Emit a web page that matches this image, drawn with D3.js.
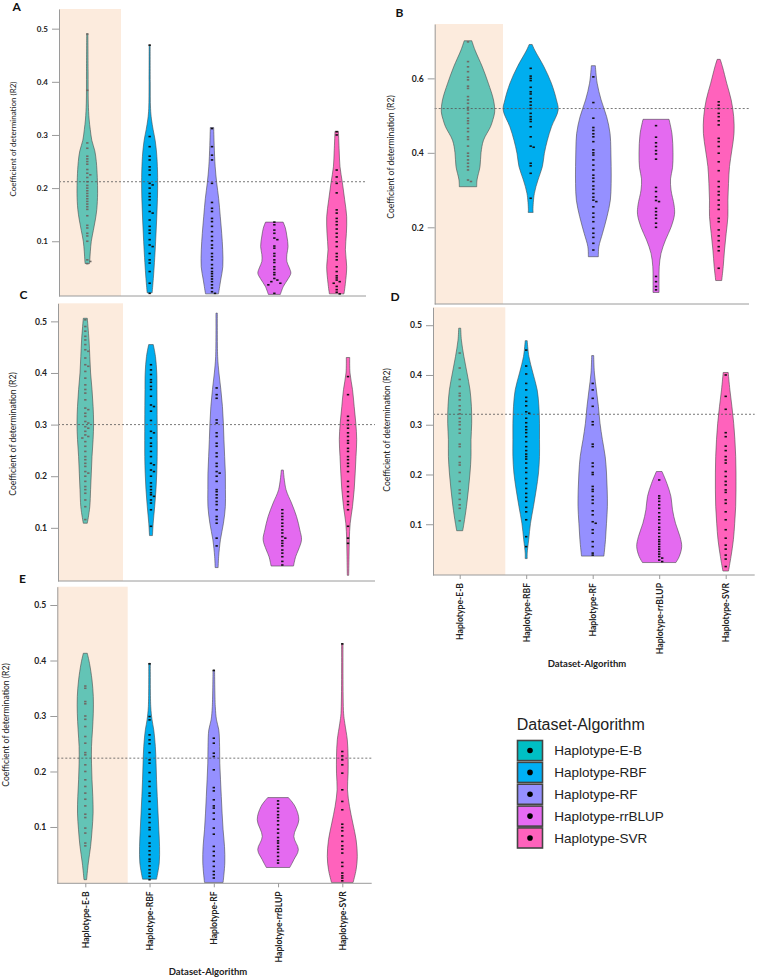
<!DOCTYPE html>
<html>
<head>
<meta charset="utf-8">
<script src="https://cdn.jsdelivr.net/npm/d3@7"></script>
<style>body{margin:0;background:#fff}</style>
</head>
<body>
<div id="chart"></div>
<script>
// categories and colours
const categories = ["Haplotype-E-B", "Haplotype-RBF", "Haplotype-RF", "Haplotype-rrBLUP", "Haplotype-SVR"];
const violinColors = ["#63c4b6", "#00aeef", "#9590ff", "#e46af0", "#ff62bc"];
const legendColors = ["#00bfc4", "#00b0f6", "#9590ff", "#e76bf3", "#ff62bc"];

// violin outlines: [R2 value, density]
const profilesA = [
  [[0.49,0.6],[0.42,0.8],[0.36,1],[0.33,1.8],[0.31,3],[0.29,4.5],[0.27,7.5],[0.25,9],[0.22,10],[0.19,10.3],[0.16,9.5],[0.14,8],[0.12,6],[0.10,4],[0.08,3],[0.065,2.5],[0.058,2.2]],
  [[0.469,0.5],[0.40,0.6],[0.35,0.9],[0.33,1.8],[0.31,3.5],[0.29,5.5],[0.26,7.2],[0.22,8],[0.18,7.8],[0.14,7],[0.10,6],[0.06,4.8],[0.03,3.7],[0.003,2.5]],
  [[0.314,1.7],[0.28,2.2],[0.24,3.2],[0.21,4.7],[0.18,6.7],[0.146,8.3],[0.115,9.7],[0.084,10.7],[0.052,10.8],[0.027,8.7],[0.001,6.5]],
  [[0.136,8.8],[0.125,11],[0.11,12.5],[0.09,13.7],[0.075,12.5],[0.062,12.5],[0.05,15],[0.04,16.5],[0.03,14],[0.015,9],[0.0,6]],
  [[0.307,1.7],[0.27,2.5],[0.24,3.3],[0.21,5.7],[0.178,8],[0.146,10],[0.115,9.7],[0.084,8.7],[0.052,10],[0.021,8.7],[0.001,7.3]]
];
const profilesB = [
  [[0.701,3.8],[0.676,7],[0.631,14.3],[0.587,20.3],[0.542,25.5],[0.51,26.7],[0.49,25],[0.47,22.5],[0.434,15.5],[0.40,13],[0.363,12],[0.327,9],[0.309,8.7]],
  [[0.691,1.5],[0.676,4],[0.631,13.3],[0.587,20.7],[0.542,25.8],[0.515,27.5],[0.47,20.8],[0.434,16.7],[0.399,13.7],[0.363,11.7],[0.327,7.3],[0.291,3.7],[0.247,2.3],[0.24,2.5]],
  [[0.634,2],[0.587,3.8],[0.542,7.8],[0.497,13.3],[0.452,16.7],[0.408,17.5],[0.363,17.8],[0.318,17.8],[0.273,17],[0.229,13.7],[0.184,9.2],[0.148,5.5],[0.121,5]],
  [[0.49,13],[0.45,16],[0.40,17],[0.36,16.5],[0.33,14.5],[0.30,15],[0.26,18],[0.235,18.5],[0.20,15],[0.166,9.5],[0.13,5],[0.094,3.2],[0.06,3],[0.025,3]],
  [[0.651,1.5],[0.631,3.8],[0.587,8],[0.542,12.5],[0.497,15],[0.452,15.3],[0.408,13.2],[0.363,10.8],[0.318,9.8],[0.273,9.2],[0.229,9.2],[0.184,7.5],[0.139,5.8],[0.094,4.5],[0.057,3]]
];
const profilesC = [
  [[0.506,2],[0.464,3.7],[0.432,4.5],[0.4,5.3],[0.368,6.7],[0.335,7.8],[0.303,8.3],[0.271,7.8],[0.238,6.7],[0.206,6],[0.174,5.3],[0.141,4.5],[0.12,3],[0.109,2]],
  [[0.455,2.3],[0.432,4.5],[0.4,5.8],[0.368,6],[0.303,6.2],[0.238,6.2],[0.206,5.8],[0.174,5],[0.141,3.7],[0.109,2.2],[0.085,1.5]],
  [[0.516,0.7],[0.432,1],[0.4,2.3],[0.368,4.2],[0.335,5.8],[0.303,6.7],[0.271,7.3],[0.238,8],[0.206,8.7],[0.174,8.8],[0.141,8.7],[0.109,6.8],[0.077,3.8],[0.044,2],[0.023,1.5]],
  [[0.212,1],[0.174,3.7],[0.148,9.2],[0.122,14.2],[0.096,17.5],[0.077,19.2],[0.057,16],[0.044,13.3],[0.026,11.2]],
  [[0.43,1.7],[0.4,2],[0.368,4.5],[0.335,6.2],[0.303,7.8],[0.271,8.7],[0.238,8],[0.206,7.2],[0.174,6.2],[0.141,4.5],[0.109,2.2],[0.077,1.3],[0.044,1],[0.008,0.7]]
];
const profilesD = [
  [[0.494,1],[0.47,1.7],[0.437,4.2],[0.404,7.3],[0.37,10.3],[0.337,11.7],[0.303,12],[0.27,11.3],[0.236,11.3],[0.203,10.3],[0.169,8.7],[0.136,6.8],[0.102,4.3],[0.087,3]],
  [[0.469,1],[0.437,2.7],[0.404,6.7],[0.37,11],[0.337,12.7],[0.303,13.3],[0.27,13.3],[0.236,13.3],[0.203,12.3],[0.169,10],[0.136,7.3],[0.102,4.3],[0.069,2.5],[0.042,1],[0.031,1]],
  [[0.439,1],[0.404,1.7],[0.37,3.7],[0.337,5.7],[0.303,7.3],[0.27,9.7],[0.236,12.5],[0.203,13.8],[0.169,14.5],[0.136,14.7],[0.102,13.8],[0.069,12.8],[0.036,11.2]],
  [[0.206,2.8],[0.182,7.7],[0.156,11.7],[0.129,13.3],[0.102,16.3],[0.075,20.8],[0.055,22.5],[0.035,20],[0.023,16.7]],
  [[0.405,2.5],[0.37,4.2],[0.337,6.2],[0.303,8],[0.27,9.2],[0.236,10],[0.203,10.3],[0.169,10.3],[0.136,10],[0.102,9],[0.069,7.7],[0.035,5.3],[0.006,2.8]]
];
const profilesE = [
  [[0.413,2],[0.395,4.2],[0.365,6.7],[0.335,8],[0.305,8],[0.275,7.2],[0.245,6.2],[0.215,6.2],[0.185,6.7],[0.155,7.5],[0.125,7.8],[0.095,6.8],[0.065,5.3],[0.035,3],[0.005,1.3]],
  [[0.395,0.8],[0.317,1.2],[0.293,2.5],[0.275,4.2],[0.245,5.8],[0.215,6.5],[0.185,7],[0.155,7.7],[0.125,8.5],[0.095,9.3],[0.065,10],[0.035,9.7],[0.006,7]],
  [[0.383,0.8],[0.317,1.5],[0.293,2.7],[0.275,5],[0.245,5.8],[0.215,6],[0.185,6.7],[0.155,7.5],[0.125,8.3],[0.095,9.3],[0.065,10.7],[0.035,11],[0.0,9.3]],
  [[0.153,10.3],[0.137,17],[0.113,20.8],[0.083,15.8],[0.059,20.3],[0.041,15.8],[0.027,11.7]],
  [[0.43,0.7],[0.305,1.3],[0.287,2.5],[0.257,5],[0.227,5.8],[0.197,5.8],[0.167,5.2],[0.137,7.2],[0.107,10.5],[0.077,13.8],[0.047,15],[0.023,13.8],[0.0,10.8]]
];

// individual R2 values (the dashes inside each violin)
const pointsA = [
  [0.49,0.384,0.285,0.275,0.26,0.255,0.25,0.245,0.235,0.228,0.225,0.22,0.212,0.205,0.2,0.195,0.19,0.185,0.18,0.175,0.17,0.165,0.16,0.148,0.13,0.125,0.115,0.11,0.1,0.065,0.062,0.058],
  [0.469,0.297,0.278,0.26,0.253,0.24,0.234,0.225,0.209,0.206,0.2,0.19,0.184,0.178,0.168,0.156,0.153,0.14,0.128,0.121,0.115,0.103,0.093,0.09,0.077,0.065,0.059,0.043,0.021,0.002],
  [0.312,0.278,0.262,0.253,0.209,0.173,0.162,0.156,0.143,0.137,0.128,0.118,0.109,0.101,0.093,0.087,0.077,0.071,0.065,0.056,0.049,0.043,0.039,0.034,0.029,0.024,0.018,0.012,0.005,0.002],
  [0.136,0.131,0.121,0.115,0.106,0.103,0.091,0.087,0.077,0.072,0.065,0.06,0.052,0.047,0.041,0.037,0.03,0.027,0.024,0.021,0.018,0.002],
  [0.306,0.3,0.234,0.221,0.209,0.191,0.159,0.153,0.143,0.137,0.131,0.123,0.115,0.108,0.099,0.09,0.077,0.071,0.065,0.052,0.043,0.035,0.031,0.027,0.024,0.021,0.015,0.009,0.004,0.001]
];
const pointsB = [
  [0.698,0.645,0.631,0.618,0.603,0.596,0.579,0.573,0.551,0.542,0.533,0.522,0.515,0.506,0.493,0.486,0.479,0.466,0.457,0.443,0.436,0.418,0.399,0.391,0.381,0.372,0.363,0.354,0.327,0.323],
  [0.627,0.606,0.6,0.594,0.576,0.564,0.558,0.546,0.537,0.528,0.519,0.506,0.497,0.49,0.484,0.47,0.443,0.418,0.415,0.372,0.365,0.345,0.278],
  [0.604,0.535,0.493,0.468,0.46,0.451,0.443,0.43,0.408,0.4,0.394,0.381,0.367,0.354,0.34,0.332,0.323,0.311,0.302,0.291,0.281,0.273,0.269,0.255,0.238,0.227,0.215,0.197,0.184,0.173,0.157,0.139],
  [0.473,0.442,0.427,0.417,0.406,0.397,0.383,0.307,0.296,0.282,0.272,0.269,0.251,0.242,0.233,0.224,0.211,0.2,0.068,0.054,0.041,0.032],
  [0.537,0.528,0.519,0.506,0.497,0.486,0.475,0.439,0.43,0.417,0.399,0.376,0.352,0.323,0.309,0.296,0.287,0.273,0.26,0.248,0.224,0.215,0.193,0.177,0.164,0.148,0.137,0.09]
];
const pointsC = [
  [0.503,0.49,0.481,0.471,0.464,0.455,0.445,0.442,0.429,0.416,0.413,0.403,0.39,0.377,0.368,0.361,0.348,0.332,0.329,0.322,0.316,0.306,0.303,0.296,0.293,0.287,0.28,0.277,0.274,0.267,0.258,0.248,0.238,0.232,0.225,0.219,0.209,0.206,0.2,0.19,0.18,0.174,0.167,0.154,0.141,0.116],
  [0.416,0.406,0.397,0.387,0.382,0.374,0.368,0.355,0.338,0.335,0.326,0.308,0.287,0.284,0.274,0.264,0.258,0.248,0.238,0.225,0.222,0.212,0.209,0.2,0.187,0.18,0.174,0.168,0.164,0.161,0.154,0.148,0.135,0.103],
  [0.371,0.358,0.351,0.309,0.303,0.284,0.277,0.264,0.258,0.245,0.238,0.225,0.219,0.209,0.206,0.2,0.19,0.174,0.17,0.164,0.158,0.151,0.145,0.135,0.122,0.116,0.109,0.08,0.065],
  [0.135,0.128,0.122,0.116,0.109,0.103,0.096,0.09,0.083,0.08,0.075,0.07,0.065,0.057,0.051,0.044,0.035,0.028],
  [0.393,0.358,0.316,0.308,0.3,0.293,0.284,0.277,0.269,0.264,0.254,0.248,0.238,0.232,0.225,0.219,0.209,0.19,0.18,0.17,0.161,0.151,0.145,0.135,0.103,0.08,0.07]
];
const pointsD = [
  [0.444,0.414,0.391,0.377,0.363,0.358,0.35,0.338,0.33,0.322,0.313,0.306,0.3,0.291,0.283,0.261,0.256,0.236,0.224,0.219,0.204,0.186,0.169,0.162,0.15,0.139,0.132,0.107],
  [0.45,0.418,0.402,0.383,0.37,0.355,0.347,0.338,0.326,0.323,0.313,0.304,0.296,0.29,0.284,0.276,0.266,0.256,0.248,0.241,0.236,0.231,0.223,0.213,0.204,0.192,0.182,0.172,0.162,0.154,0.146,0.134,0.125,0.109,0.075,0.055],
  [0.383,0.37,0.353,0.337,0.306,0.3,0.261,0.256,0.223,0.216,0.204,0.2,0.176,0.17,0.166,0.156,0.149,0.142,0.127,0.119,0.105,0.102,0.089,0.082,0.065,0.055,0.042,0.038],
  [0.189,0.157,0.152,0.146,0.139,0.132,0.123,0.115,0.109,0.102,0.094,0.089,0.082,0.075,0.069,0.065,0.06,0.055,0.05,0.045,0.04,0.035,0.032,0.028,0.025],
  [0.4,0.357,0.331,0.284,0.276,0.257,0.248,0.236,0.229,0.223,0.206,0.196,0.186,0.179,0.169,0.164,0.149,0.142,0.125,0.109,0.089,0.072,0.058,0.05,0.038,0.03,0.015]
];
const pointsE = [
  [0.354,0.35,0.326,0.322,0.3,0.294,0.281,0.263,0.251,0.234,0.23,0.212,0.2,0.185,0.173,0.161,0.15,0.138,0.123,0.117,0.098,0.089,0.071,0.066],
  [0.394,0.299,0.293,0.266,0.257,0.25,0.234,0.221,0.215,0.198,0.182,0.173,0.161,0.156,0.146,0.132,0.123,0.117,0.108,0.099,0.095,0.083,0.071,0.065,0.057,0.05,0.042,0.038,0.03,0.023,0.017,0.011,0.005],
  [0.382,0.26,0.251,0.233,0.227,0.203,0.171,0.165,0.149,0.138,0.134,0.125,0.114,0.098,0.087,0.065,0.056,0.048,0.038,0.029,0.02,0.014,0.008],
  [0.147,0.141,0.134,0.128,0.122,0.117,0.111,0.104,0.096,0.089,0.081,0.075,0.071,0.065,0.06,0.054,0.047,0.04,0.035],
  [0.43,0.236,0.228,0.221,0.212,0.197,0.167,0.146,0.131,0.105,0.099,0.093,0.084,0.074,0.066,0.06,0.053,0.036,0.029,0.017,0.012,0.008,0.003]
];

// dashed reference line (mean R2 of the first group) and tick values
const refLines = { A: 0.212, B: 0.519, C: 0.3, D: 0.321, E: 0.224 };
const ticksFine = [0.1, 0.2, 0.3, 0.4, 0.5];
const ticksB = [0.2, 0.4, 0.6];

const width = 757, height = 978;

// where each sub-figure sits on the page
const panels = [
  { id: "A", profiles: profilesA, points: pointsA, ticks: ticksFine, domain: [-0.003, 0.537],
    left: 59, right: 366, top: 9, bottom: 296, cx: [87.3, 336.7], bandRight: 121,
    letter: [12.5, 11], ylab: [13, 139], fs: 8, xlabels: false },
  { id: "B", profiles: profilesB, points: pointsB, ticks: ticksB, domain: [-0.006, 0.746],
    left: 434.7, right: 749, top: 24, bottom: 304, cx: [468, 718.7], bandRight: 503,
    letter: [395.5, 17], ylab: [391.3, 157], fs: 8.6, xlabels: false },
  { id: "C", profiles: profilesC, points: pointsC, ticks: ticksFine, domain: [-0.003, 0.535],
    left: 58, right: 375, top: 303.3, bottom: 581, cx: [85.3, 348], bandRight: 123,
    letter: [19.5, 299], ylab: [13.3, 434], fs: 8.6, xlabels: false },
  { id: "D", profiles: profilesD, points: pointsD, ticks: ticksFine, domain: [-0.002, 0.536],
    left: 433, right: 754.7, top: 307.3, bottom: 575, cx: [459.7, 725.7], bandRight: 505.3,
    letter: [390.5, 301], ylab: [387.3, 430], fs: 8.6, xlabels: true, xtitle: [587, 667] },
  { id: "E", profiles: profilesE, points: pointsE, ticks: ticksFine, domain: [-0.0015, 0.533],
    left: 57.3, right: 371.7, top: 586.7, bottom: 883.3, cx: [85.3, 342.3], bandRight: 127.7,
    letter: [19, 583], ylab: [5.5, 725], fs: 8.6, xlabels: true, xtitle: [208, 975] }
];

const svg = d3.select("#chart").append("svg")
  .attr("width", width)
  .attr("height", height)
  .attr("viewBox", `0 0 ${width} ${height}`)
  .style("font-family", "Lato, 'Open Sans', sans-serif");

svg.append("rect").attr("width", width).attr("height", height).attr("fill", "#fff");

// density -> half width in pixels
const maxDensity = 30;
const halfWidth = d3.scaleLinear().domain([0, maxDensity]).range([0, maxDensity]);

panels.forEach(p => {
  const g = svg.append("g").attr("class", `panel-${p.id}`);

  const y = d3.scaleLinear().domain(p.domain).range([p.bottom, p.top]);
  const x = d3.scalePoint().domain(categories).range(p.cx);

  // shaded first column
  g.append("rect")
    .attr("x", p.left).attr("y", p.top)
    .attr("width", p.bandRight - p.left).attr("height", p.bottom - p.top)
    .attr("fill", "#fcebdd");

  // violins
  categories.forEach((cat, i) => {
    const cx = x(cat);
    const area = d3.area()
      .y(d => y(d[0]))
      .x0(d => cx - halfWidth(d[1]))
      .x1(d => cx + halfWidth(d[1]))
      .curve(d3.curveCatmullRom.alpha(0.5));
    g.append("path")
      .attr("d", area(p.profiles[i]))
      .attr("fill", violinColors[i])
      .attr("stroke", "#4a4a4a")
      .attr("stroke-width", 0.6);

    // dashes for each value, small sideways shift where they pile up
    const vals = p.points[i].slice().sort((a, b) => b - a);
    let prevY = -99, k = 0;
    const shifts = [0, 3, -3, 6, -6];
    vals.forEach(v => {
      const py = y(v);
      k = Math.abs(py - prevY) < 1.8 ? k + 1 : 0;
      prevY = py;
      g.append("rect")
        .attr("x", cx + shifts[k % shifts.length] - 1.2)
        .attr("y", py - 0.8)
        .attr("width", 2.4)
        .attr("height", 1.6)
        .attr("fill", i === 0 ? "#6e6a66" : "#111");
    });
  });

  // dashed mean line
  g.append("line")
    .attr("x1", p.left).attr("x2", p.right)
    .attr("y1", y(refLines[p.id])).attr("y2", y(refLines[p.id]))
    .attr("stroke", "#555").attr("stroke-width", 0.8)
    .attr("stroke-dasharray", "2,2");

  // y axis
  const yAxis = g.append("g")
    .attr("transform", `translate(${p.left},0)`)
    .call(d3.axisLeft(y).tickValues(p.ticks).tickFormat(d3.format(".1f")).tickSize(7).tickSizeOuter(0).tickPadding(4));
  yAxis.select(".domain").attr("stroke", "#9a9a9a");
  yAxis.selectAll(".tick line").attr("stroke", "#9a9a9a");
  yAxis.selectAll(".tick text")
    .attr("font-family", "Lato, sans-serif")
    .attr("font-size", p.fs)
    .attr("font-weight", "bold")
    .attr("fill", "#222");

  // x axis line
  g.append("line")
    .attr("x1", p.left).attr("x2", p.right)
    .attr("y1", p.bottom).attr("y2", p.bottom)
    .attr("stroke", "#9a9a9a");

  if (p.xlabels) {
    const xAxis = g.append("g")
      .attr("transform", `translate(0,${p.bottom})`)
      .call(d3.axisBottom(x).tickSize(4));
    xAxis.select(".domain").remove();
    xAxis.selectAll(".tick line").attr("stroke", "#9a9a9a");
    xAxis.selectAll(".tick text")
      .attr("transform", "rotate(-90)")
      .attr("text-anchor", "end")
      .attr("x", -8)
      .attr("y", 0)
      .attr("dy", "0.35em")
      .attr("font-family", "Lato, sans-serif")
      .attr("font-size", 8.6)
      .attr("font-weight", "bold")
      .attr("fill", "#222");

    g.append("text")
      .attr("x", p.xtitle[0]).attr("y", p.xtitle[1])
      .attr("text-anchor", "middle")
      .attr("font-size", 9.5)
      .attr("font-weight", "bold")
      .attr("fill", "#222")
      .text("Dataset-Algorithm");
  }

  // y axis title
  g.append("text")
    .attr("transform", `translate(${p.ylab[0]},${p.ylab[1]}) rotate(-90)`)
    .attr("text-anchor", "middle")
    .attr("dy", "0.35em")
    .attr("font-size", p.fs)
    .attr("fill", "#222")
    .text("Coefficient of determination (R2)");

  // panel letter
  g.append("text")
    .attr("x", p.letter[0]).attr("y", p.letter[1])
    .attr("font-size", 12)
    .attr("font-weight", "bold")
    .attr("fill", "#111")
    .text(p.id);
});

// legend
const legend = svg.append("g")
  .attr("transform", "translate(516.7,730)")
  .style("font-family", "'Liberation Sans', Arial, sans-serif");

legend.append("text")
  .attr("x", 0).attr("y", 0)
  .attr("font-size", 16)
  .attr("fill", "#222")
  .text("Dataset-Algorithm");

const rowY = d3.scaleBand().domain(categories).range([10.5, 118]).paddingInner(0.08);
categories.forEach((cat, i) => {
  const yy = rowY(cat);
  legend.append("rect")
    .attr("x", 0.8).attr("y", yy)
    .attr("width", 25).attr("height", rowY.bandwidth())
    .attr("fill", legendColors[i])
    .attr("stroke", "#444")
    .attr("stroke-width", 1.6);
  legend.append("circle")
    .attr("cx", 13.3).attr("cy", yy + rowY.bandwidth() / 2)
    .attr("r", 2.8)
    .attr("fill", "#000");
  legend.append("text")
    .attr("x", 37.5).attr("y", yy + rowY.bandwidth() / 2)
    .attr("dy", "0.36em")
    .attr("font-size", 13.5)
    .attr("fill", "#222")
    .text(cat);
});
</script>
</body>
</html>
